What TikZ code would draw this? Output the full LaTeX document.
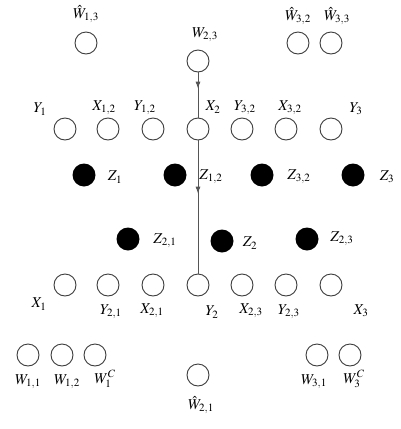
\documentclass[tikz,border=0pt]{standalone}
\usepackage{amsmath}
\usepackage{mathptmx}
\usetikzlibrary{arrows.meta,decorations.markings}
\definecolor{nodegray}{RGB}{60,60,60}
\definecolor{linegray}{RGB}{85,85,85}
\tikzset{
  obsnode/.style={circle, draw=nodegray, line width=0.9pt, minimum size=22pt, inner sep=0pt},
  latnode/.style={circle, fill=black, minimum size=23pt, inner sep=0pt},
  vlabel/.style={inner sep=0pt, font=\fontsize{15}{17}\selectfont},
  flowarr/.style={draw=linegray, line width=0.9pt, postaction={decorate},
    decoration={markings, mark=at position #1 with {\arrow{Latex[length=7pt,width=5pt]}}}}
}
\begin{document}
\begin{tikzpicture}[x=1pt,y=-1pt]
  \useasboundingbox (0,0) rectangle (400,429);

  % top W nodes
  \node[obsnode] (w13h) at (86,43) {};
  \node[obsnode] (w23) at (198,61) {};
  \node[obsnode] (w32h) at (298,43) {};
  \node[obsnode] (w33h) at (331,43) {};
  \node[vlabel] (lw13h) at (86,14) {$\hat{W}_{1,3}$};
  \node[vlabel] (lw23) at (205,35) {$W_{2,3}$};
  \node[vlabel] (lw32h) at (298,16) {$\hat{W}_{3,2}$};
  \node[vlabel] (lw33h) at (337,16) {$\hat{W}_{3,3}$};

  % upper row
  \node[obsnode] (y1) at (65,129) {};
  \node[obsnode] (x12) at (108,129) {};
  \node[obsnode] (y12) at (153,129) {};
  \node[obsnode] (x2) at (198,129) {};
  \node[obsnode] (y32) at (242,129) {};
  \node[obsnode] (x32) at (286,129) {};
  \node[obsnode] (y3) at (331,129) {};
  \node[vlabel] (ly1) at (40,109) {$Y_1$};
  \node[vlabel] (lx12) at (104,108) {$X_{1,2}$};
  \node[vlabel] (ly12) at (145,108) {$Y_{1,2}$};
  \node[vlabel] (lx2) at (213,107) {$X_2$};
  \node[vlabel] (ly32) at (245,108) {$Y_{3,2}$};
  \node[vlabel] (lx32) at (290,108) {$X_{3,2}$};
  \node[vlabel] (ly3) at (356,109) {$Y_3$};

  % latent Z nodes
  \node[latnode] (z1) at (84,175) {};
  \node[latnode] (z12) at (175,175) {};
  \node[latnode] (z32) at (262,175) {};
  \node[latnode] (z3) at (353,175) {};
  \node[vlabel] (lz1) at (115,177) {$Z_1$};
  \node[vlabel] (lz12) at (211,177) {$Z_{1,2}$};
  \node[vlabel] (lz32) at (299,177) {$Z_{3,2}$};
  \node[vlabel] (lz3) at (387,177) {$Z_3$};

  \node[latnode] (z21) at (128,239) {};
  \node[latnode] (z2) at (222,241) {};
  \node[latnode] (z23) at (307,239) {};
  \node[vlabel] (lz21) at (165,241) {$Z_{2,1}$};
  \node[vlabel] (lz2) at (250,243) {$Z_2$};
  \node[vlabel] (lz23) at (342,239) {$Z_{2,3}$};

  % lower row
  \node[obsnode] (x1) at (65,285) {};
  \node[obsnode] (y21) at (108,285) {};
  \node[obsnode] (x21) at (153,285) {};
  \node[obsnode] (y2) at (198,285) {};
  \node[obsnode] (x23) at (242,285) {};
  \node[obsnode] (y23) at (286,285) {};
  \node[obsnode] (x3) at (331,285) {};
  \node[vlabel] (lx1) at (39,304) {$X_1$};
  \node[vlabel] (ly21) at (111,312) {$Y_{2,1}$};
  \node[vlabel] (lx21) at (152,311) {$X_{2,1}$};
  \node[vlabel] (ly2) at (212,312) {$Y_2$};
  \node[vlabel] (lx23) at (251,311) {$X_{2,3}$};
  \node[vlabel] (ly23) at (289,312) {$Y_{2,3}$};
  \node[vlabel] (lx3) at (361,311) {$X_3$};

  % bottom W nodes
  \node[obsnode] (w11) at (28,355) {};
  \node[obsnode] (w12) at (62,355) {};
  \node[obsnode] (w1c) at (95,355) {};
  \node[obsnode] (w21h) at (198,375) {};
  \node[obsnode] (w31) at (317,355) {};
  \node[obsnode] (w3c) at (350,355) {};
  \node[vlabel] (lw11) at (28,382) {$W_{1,1}$};
  \node[vlabel] (lw12) at (67,382) {$W_{1,2}$};
  \node[vlabel] (lw1c) at (105,379) {$W_1^{C}$};
  \node[vlabel] (lw21h) at (201,405) {$\hat{W}_{2,1}$};
  \node[vlabel] (lw31) at (314,382) {$W_{3,1}$};
  \node[vlabel] (lw3c) at (354,379) {$W_3^{C}$};

  \draw[flowarr=0.36] (w23) -- (x2);
  \draw[flowarr=0.4] (x2) -- (y2);
\end{tikzpicture}
\end{document}
